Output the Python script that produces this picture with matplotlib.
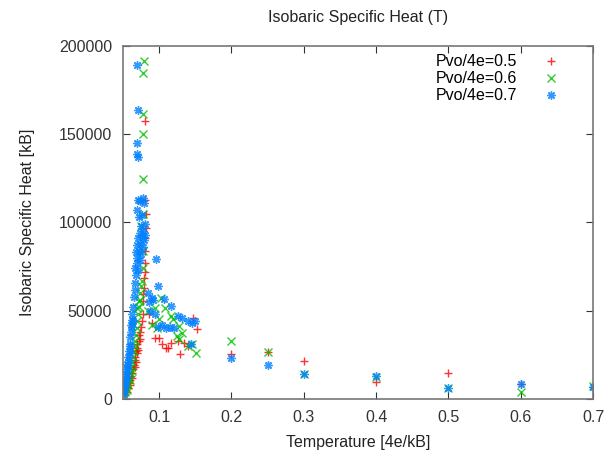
import matplotlib
matplotlib.use("Agg")
import matplotlib.pyplot as plt

plt.rcParams["font.family"] = ["Liberation Sans", "DejaVu Sans"]

# Pvo/4e = 0.5
t_05 = [0.053, 0.054, 0.055, 0.056, 0.057, 0.058, 0.059, 0.060, 0.061, 0.062,
        0.063, 0.064, 0.065, 0.066, 0.066, 0.067, 0.068, 0.068, 0.069, 0.070,
        0.070, 0.071, 0.072, 0.072, 0.073, 0.074, 0.075, 0.076, 0.077, 0.078,
        0.078, 0.079, 0.079, 0.080, 0.080, 0.081, 0.081, 0.082, 0.082, 0.081,
        0.080, 0.086, 0.090, 0.094, 0.100, 0.109, 0.116, 0.129, 0.134, 0.140,
        0.147, 0.152, 0.112, 0.104, 0.126,
        0.2, 0.25, 0.3, 0.4, 0.5, 0.6, 0.7]
c_05 = [3000, 5000, 4000, 7000, 6000, 9000, 8000, 11000, 13000, 12000,
        15000, 17000, 19000, 18000, 22000, 24000, 21000, 27000, 26000, 29000,
        31000, 28000, 33000, 36000, 34000, 38000, 41000, 44000, 48000, 55500,
        59500, 63000, 68600, 72000, 77000, 84000, 91200, 97000, 104800, 113000,
        157500, 48200, 43100, 34600, 34600, 28900, 31700, 25500, 31700, 30000,
        45900, 39700, 29000, 31000, 33000,
        25500, 26600, 21500, 9600, 14700, 8500, 6800]

# Pvo/4e = 0.6
t_06 = [0.052, 0.053, 0.054, 0.055, 0.056, 0.057, 0.058, 0.059, 0.060, 0.061,
        0.062, 0.063, 0.064, 0.065, 0.066, 0.067, 0.068, 0.069, 0.070, 0.071,
        0.072, 0.073, 0.074, 0.075, 0.076, 0.077, 0.078, 0.075, 0.078, 0.077,
        0.078, 0.077, 0.078, 0.079, 0.072, 0.070,
        0.094, 0.103, 0.108, 0.100, 0.116, 0.119, 0.097, 0.124, 0.128, 0.131,
        0.127, 0.140, 0.151, 0.085, 0.090, 0.145,
        0.2, 0.25, 0.3, 0.4, 0.5, 0.6, 0.7]
c_06 = [2000, 4000, 6000, 5000, 9000, 8000, 12000, 11000, 15000, 18000,
        16000, 21000, 24000, 27000, 30000, 33000, 36000, 40000, 44000, 48000,
        52000, 56000, 60000, 64000, 67000, 74000, 84000, 98000, 104800, 124700,
        150000, 161500, 184700, 191500, 55500, 51600,
        51600, 57200, 51600, 45300, 47000, 45300, 40200, 35700, 41400, 37400,
        34000, 30000, 26100, 50000, 42000, 31000,
        32800, 26600, 14000, 12500, 6500, 4000, 7500]

# Pvo/4e = 0.7
t_07 = [0.051, 0.052, 0.052, 0.053, 0.053, 0.054, 0.054, 0.055, 0.055, 0.056,
        0.056, 0.057, 0.057, 0.058, 0.058, 0.059, 0.059, 0.060, 0.060, 0.061,
        0.061, 0.062, 0.063, 0.063, 0.064, 0.064, 0.065, 0.066,
        0.066, 0.068, 0.067, 0.069, 0.071, 0.070, 0.073, 0.068, 0.072, 0.075,
        0.070, 0.074, 0.077, 0.071, 0.076, 0.079, 0.073, 0.078, 0.081, 0.075,
        0.080, 0.072, 0.076, 0.069, 0.074, 0.071, 0.077, 0.079,
        0.071, 0.070, 0.070, 0.071, 0.070,
        0.096, 0.099, 0.090, 0.092, 0.106, 0.116, 0.094, 0.098, 0.109, 0.115,
        0.126, 0.132, 0.140, 0.145, 0.150, 0.144, 0.084, 0.086, 0.088, 0.104,
        0.120,
        0.2, 0.25, 0.3, 0.4, 0.5, 0.6, 0.7]
c_07 = [3000, 5000, 8000, 7000, 11000, 10000, 14000, 13000, 17000, 16000,
        20000, 19000, 24000, 22000, 27000, 26000, 31000, 30000, 35000, 38000,
        42000, 45000, 41000, 48000, 44000, 52000, 58000, 62000,
        66000, 70000, 74000, 77000, 73000, 80000, 79000, 83000, 84000, 82000,
        87000, 88000, 86000, 91000, 92000, 90000, 94000, 95000, 93000, 98000,
        99000, 103000, 104000, 107000, 112000, 113000, 114000, 111000,
        137000, 139000, 145000, 164000, 189000,
        79300, 64000, 57200, 56000, 56700, 52700, 48000, 40800, 40200, 41000,
        47000, 46000, 44200, 43000, 44000, 31200, 60000, 55000, 50000, 42000,
        40000,
        23200, 19300, 14000, 13000, 6200, 8500, 6800]

series = [
    (t_05, c_05, "Pvo/4e=0.5", "#ff0000", "+"),
    (t_06, c_06, "Pvo/4e=0.6", "#00c000", "x"),
    (t_07, c_07, "Pvo/4e=0.7", "#0080ff", (8, 2, 0)),
]

fig = plt.figure(figsize=(6.16, 4.55), dpi=100)
ax = fig.add_axes([0.1997, 0.1231, 0.7630, 0.7758])

for t, c, label, color, marker in series:
    ax.plot(t, c, linestyle="none", marker=marker, color=color,
            markersize=6, markeredgewidth=1, label=label, alpha=0.8)

ax.set_xlim(0.05, 0.7)
ax.set_ylim(0, 200000)
ax.set_xticks([0.1, 0.2, 0.3, 0.4, 0.5, 0.6, 0.7])
ax.set_xticklabels(["0.1", "0.2", "0.3", "0.4", "0.5", "0.6", "0.7"])
ax.set_yticks([0, 50000, 100000, 150000, 200000])
ax.set_yticklabels(["0", "50000", "100000", "150000", "200000"])
ax.tick_params(direction="in", top=True, right=True, length=5,
               labelsize=11.5, colors="#333333", pad=8)
for s in ax.spines.values():
    s.set_color("#777777")
    s.set_linewidth(1.2)

ax.set_title("Isobaric Specific Heat (T)", fontsize=11.5, color="#222222", pad=17)
ax.set_xlabel("Temperature [4e/kB]", fontsize=11.5, color="#222222", labelpad=7)
ax.set_ylabel("Isobaric Specific Heat [kB]", fontsize=11.5, color="#222222", labelpad=17)

ax.legend(loc="upper right", bbox_to_anchor=(0.9745, 1.017), frameon=False,
          markerfirst=False, fontsize=11.5, handlelength=2.0,
          handletextpad=1.1, labelspacing=0.12, borderaxespad=0.5,
          borderpad=0.4)

fig.savefig("out.png", dpi=100)
